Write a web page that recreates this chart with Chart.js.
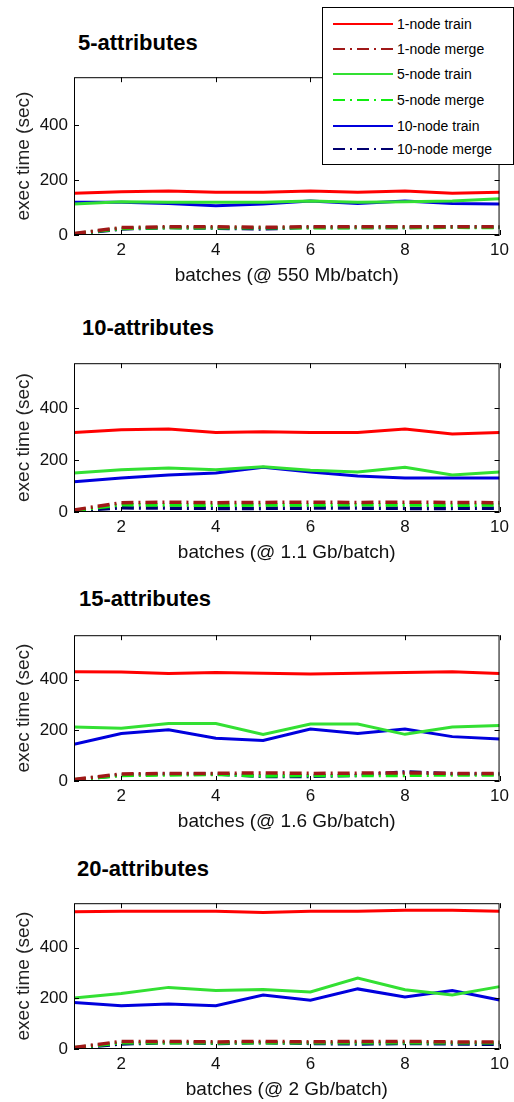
<!DOCTYPE html>
<html>
<head>
<meta charset="utf-8">
<script src="https://cdn.jsdelivr.net/npm/chart.js@4"></script>
<style>
  body { margin: 0; background: #fff; }
  #page { position: relative; width: 514px; height: 1102px; overflow: hidden; font-family: "Liberation Sans", Arial, sans-serif; }
  .box { position: absolute; left: 0; width: 514px; }
  .title { position: absolute; font-weight: bold; font-size: 22px; line-height: 24px; color: #000; }
  #legend { position: absolute; left: 322px; top: 7px; width: 190px; height: 156px; background: #fff; border: 1px solid #000; z-index: 5; }
  .row { position: absolute; left: 0; height: 20px; font-size: 14px; line-height: 20px; color: #000; }
  .row svg { position: absolute; left: 10px; top: 0; }
  .row span { position: absolute; left: 74px; white-space: nowrap; }
</style>
</head>
<body>
<div id="page">
  <div id="legend"></div>
</div>
<script>
// batches on x
const batches = [1, 2, 3, 4, 5, 6, 7, 8, 9, 10];
const xTicks = [2, 4, 6, 8, 10];
const yTicks = [0, 200, 400];

const seriesNames = ['1-node train', '1-node merge', '5-node train', '5-node merge', '10-node train', '10-node merge'];

// 5-attributes
const train1_a5 = [152, 158, 160, 156, 156, 160, 156, 160, 152, 156];
const merge1_a5 = [5, 27, 30, 30, 28, 30, 30, 30, 30, 30];
const train5_a5 = [113, 121, 119, 119, 119, 124, 119, 121, 124, 132];
const merge5_a5 = [4, 24, 27, 26, 26, 26, 27, 27, 28, 27];
const train10_a5 = [119, 119, 115, 107, 113, 124, 115, 124, 115, 113];
const merge10_a5 = [3, 22, 27, 25, 22, 28, 27, 27, 30, 28];

// 10-attributes
const train1_a10 = [307, 318, 321, 307, 310, 307, 307, 321, 301, 307];
const merge1_a10 = [8, 36, 38, 36, 37, 38, 37, 38, 37, 36];
const train5_a10 = [151, 163, 170, 163, 175, 161, 155, 173, 143, 155];
const merge5_a10 = [6, 28, 27, 26, 27, 27, 28, 27, 26, 27];
const train10_a10 = [117, 131, 143, 151, 173, 155, 139, 131, 131, 131];
const merge10_a10 = [5, 16, 15, 14, 14, 15, 15, 14, 14, 15];

// 15-attributes
const train1_a15 = [431, 430, 424, 428, 425, 422, 425, 428, 431, 424];
const merge1_a15 = [6, 28, 30, 30, 32, 30, 31, 32, 30, 30];
const train5_a15 = [213, 208, 227, 227, 184, 225, 225, 184, 213, 219];
const merge5_a15 = [5, 22, 24, 26, 20, 22, 22, 22, 24, 24];
const train10_a15 = [145, 187, 202, 169, 160, 205, 187, 205, 175, 166];
const merge10_a15 = [4, 24, 28, 28, 18, 18, 22, 36, 28, 28];

// 20-attributes
const train1_a20 = [541, 543, 543, 543, 538, 543, 543, 547, 547, 543];
const merge1_a20 = [6, 30, 30, 28, 30, 28, 30, 30, 28, 28];
const train5_a20 = [201, 219, 243, 231, 235, 225, 280, 234, 213, 246];
const merge5_a20 = [5, 25, 25, 24, 25, 25, 25, 25, 25, 25];
const train10_a20 = [183, 171, 177, 171, 213, 192, 237, 205, 231, 193];
const merge10_a20 = [4, 20, 25, 22, 25, 22, 20, 22, 20, 18];

const colors = ['#ff0000', '#a01818', '#33e033', '#10ee10', '#0000dd', '#000070'];
const dashes = [[], [12, 5, 2, 5], [], [12, 5, 2, 5], [], [12, 5, 2, 5]];
const widths = [3, 3.5, 3, 3.5, 3, 3.5];

// layout of the four panels (plot area top/bottom in page px)
const panels = [
  { title: '5-attributes', xlabel: 'batches (@ 550 Mb/batch)', top: 65, bottom: 235, titleX: 78, titleY: 31,
    data: [train1_a5, merge1_a5, train5_a5, merge5_a5, train10_a5, merge10_a5] },
  { title: '10-attributes', xlabel: 'batches (@ 1.1 Gb/batch)', top: 351, bottom: 512, titleX: 82, titleY: 316,
    data: [train1_a10, merge1_a10, train5_a10, merge5_a10, train10_a10, merge10_a10] },
  { title: '15-attributes', xlabel: 'batches (@ 1.6 Gb/batch)', top: 623, bottom: 781, titleX: 79, titleY: 587,
    data: [train1_a15, merge1_a15, train5_a15, merge5_a15, train10_a15, merge10_a15] },
  { title: '20-attributes', xlabel: 'batches (@ 2 Gb/batch)', top: 891, bottom: 1049, titleX: 77, titleY: 857,
    data: [train1_a20, merge1_a20, train5_a20, merge5_a20, train10_a20, merge10_a20] }
];

// box + inward ticks, matlab style
const frame = {
  id: 'frame',
  afterDatasetsDraw(chart) {
    const { ctx, chartArea: a, scales: { x, y } } = chart;
    ctx.save();
    ctx.strokeStyle = '#000';
    ctx.lineWidth = 1;
    ctx.setLineDash([]);
    ctx.strokeRect(a.left + 0.5, a.top + 0.5, a.right - a.left - 1, a.bottom - a.top - 1);
    ctx.beginPath();
    x.ticks.forEach(t => {
      const px = Math.round(x.getPixelForValue(t.value)) + 0.5;
      ctx.moveTo(px, a.top); ctx.lineTo(px, a.top + 5);
      ctx.moveTo(px, a.bottom); ctx.lineTo(px, a.bottom - 5);
    });
    y.ticks.forEach(t => {
      const py = Math.round(y.getPixelForValue(t.value)) + 0.5;
      ctx.moveTo(a.left, py); ctx.lineTo(a.left + 5, py);
      ctx.moveTo(a.right, py); ctx.lineTo(a.right - 5, py);
    });
    ctx.stroke();
    ctx.restore();
  }
};

const page = document.getElementById('page');

function makePanel(p) {
  const t = document.createElement('div');
  t.className = 'title';
  t.style.left = p.titleX + 'px';
  t.style.top = p.titleY + 'px';
  t.textContent = p.title;
  page.appendChild(t);

  const h = 4 + (p.bottom - p.top) + 54;
  const box = document.createElement('div');
  box.className = 'box';
  box.style.top = (p.top - 4) + 'px';
  box.style.height = h + 'px';
  const canvas = document.createElement('canvas');
  canvas.width = 514;
  canvas.height = h;
  box.appendChild(canvas);
  page.appendChild(box);

  const datasets = p.data.map((vals, i) => ({
    label: seriesNames[i],
    data: vals.map((v, j) => ({ x: batches[j], y: v })),
    borderColor: colors[i],
    borderWidth: widths[i],
    borderDash: dashes[i],
    pointRadius: 0,
    tension: 0,
    fill: false
  }));

  new Chart(canvas, {
    type: 'line',
    data: { datasets: datasets },
    options: {
      responsive: false,
      animation: false,
      layout: { padding: { top: 4, right: 12, left: 0, bottom: 0 } },
      plugins: { legend: { display: false }, tooltip: { enabled: false } },
      scales: {
        x: {
          type: 'linear', min: 1, max: 10,
          afterBuildTicks: s => { s.ticks = xTicks.map(v => ({ value: v })); },
          afterFit: s => { s.height = 54; },
          grid: { display: false, drawTicks: false },
          border: { display: false },
          ticks: { color: '#111', font: { size: 17, family: 'Liberation Sans' }, padding: 5 },
          title: { display: true, text: p.xlabel, color: '#111', font: { size: 19, family: 'Liberation Sans' }, padding: { top: 0, bottom: 2 } }
        },
        y: {
          min: 0, max: 575,
          afterBuildTicks: s => { s.ticks = yTicks.map(v => ({ value: v })); },
          afterFit: s => { s.width = 74; },
          grid: { display: false, drawTicks: false },
          border: { display: false },
          ticks: { color: '#111', font: { size: 17, family: 'Liberation Sans' }, padding: 6 },
          title: { display: true, text: 'exec time (sec)', color: '#222', font: { size: 19, family: 'Liberation Sans' }, padding: { top: 12, bottom: 0 } }
        }
      }
    },
    plugins: [frame]
  });
}

panels.forEach(makePanel);

// legend
const legend = document.getElementById('legend');
const rowY = [6, 31, 56, 82, 108, 131];
seriesNames.forEach((name, i) => {
  const row = document.createElement('div');
  row.className = 'row';
  row.style.top = rowY[i] + 'px';
  const dash = dashes[i].length ? ' stroke-dasharray="' + dashes[i].join(' ') + '"' : '';
  row.innerHTML = '<svg width="60" height="20"><line x1="0" y1="10" x2="60" y2="10" stroke="' + colors[i] +
    '" stroke-width="2"' + dash + '/></svg><span>' + name + '</span>';
  legend.appendChild(row);
});
</script>
</body>
</html>
